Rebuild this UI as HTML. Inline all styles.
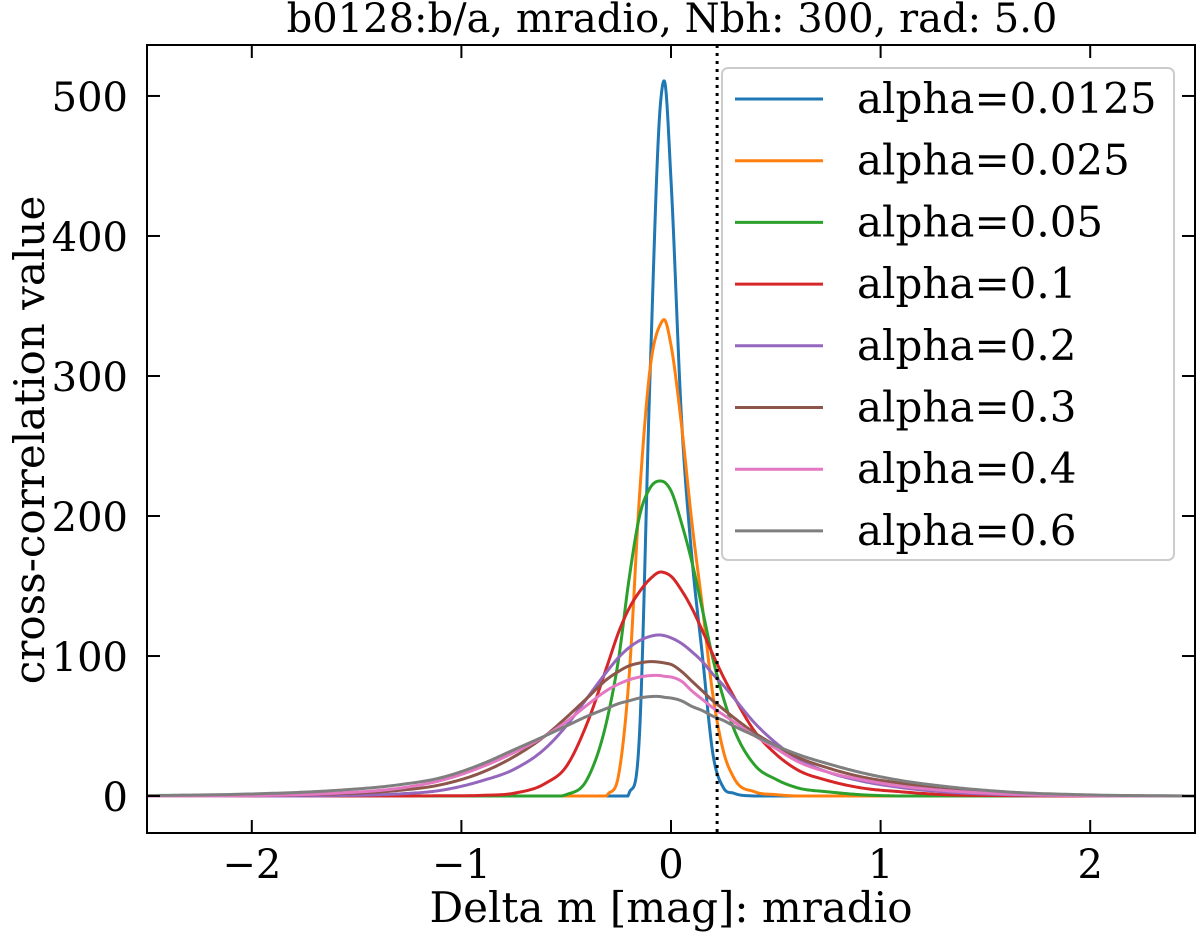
<!DOCTYPE html>
<html><head><meta charset="utf-8"><style>
html,body{margin:0;padding:0;background:#fff;}
svg{display:block;font-family:"DejaVu Serif","Liberation Serif",serif;}
</style></head><body>
<svg id="chart" width="1200" height="935" viewBox="0 0 1200 935" xmlns="http://www.w3.org/2000/svg">
<text x="672" y="32" font-size="40" text-anchor="middle" fill="#000">b0128:b/a, mradio, Nbh: 300, rad: 5.0</text>
<g id="curves"></g>
<line id="vline" y1="45" y2="833" stroke="#000" stroke-width="3" stroke-dasharray="3,5"/>
<g id="axes"></g>
<text x="671" y="922" font-size="42" text-anchor="middle">Delta m [mag]: mradio</text>
<text transform="translate(44,440) rotate(-90)" font-size="42" text-anchor="middle">cross-correlation value</text>
<g id="legend"></g>
</svg>
<script>
const xGrid=[-2.5,-2,-1.6,-1.3,-1.1,-0.9,-0.75,-0.6,-0.5,-0.4,-0.3,-0.25,-0.2,-0.15,-0.1,-0.05,-0.03,0,0.05,0.1,0.15,0.2,0.25,0.3,0.4,0.5,0.6,0.75,0.9,1.1,1.3,1.6,2,2.5];
const labels=["alpha=0.0125","alpha=0.025","alpha=0.05","alpha=0.1","alpha=0.2","alpha=0.3","alpha=0.4","alpha=0.6"];
const colors=["#1f77b4","#ff7f0e","#2ca02c","#d62728","#9467bd","#8c564b","#e377c2","#7f7f7f"];
const sBlue  =[0,0,0,0,0,0,0,0,0,0,0,0,2,45,300,495,510,440,270,170,100,30,6,2,0,0,0,0,0,0,0,0,0,0];
const sOrange=[0,0,0,0,0,0,0,0,0,0,1.5,15,85,215,305,337,340,322,265,195,135,72,32,13,3,1,0,0,0,0,0,0,0,0];
const sGreen =[0,0,0,0,0,0,0,0,1,12,58,98,155,200,220,225,224,218,195,167,133,98,70,48,22,12,6,3,1,0,0,0,0,0];
const sRed   =[0,0,0,0,0.2,0.5,2,9,21,52,95,117,134,146,155,160,159.5,157,147,134,118,101,85,71,46,30,19,11,6,3,1,0.3,0,0];
const sPurple=[0,0,0.3,1.5,4,11,19,34,50,70,90,99,106,111,114,115,114.5,113,109,103,96,87,79,70,52,38,27,17,11,6,3,1,0.2,0];
const sBrown =[0,0.2,1.5,4,8,17,28,43,56,70,84,89,93,95,96,95.5,95,94,89,82,75,68,62,56,45,36,28,20,14,9,5,2,0.5,0];
const sPink  =[0,0.3,2,5.5,11,21,31,43,53,65,76,80,83,85,86,86,85.5,85,82,75,69,63,58,53,43,34,25,17,12,7,4,1.5,0.3,0];
const sGray  =[0.3,1.5,4,8,13,23,33,43,50,57,63,66,68,70,71,71,70.5,70,68,64,61,57,54,50,43,36,30,23,17,11,7,3,0.8,0];
const series=[sBlue,sOrange,sGreen,sRed,sPurple,sBrown,sPink,sGray];
const xTicks=[-2,-1,0,1,2];
const xTickLabels=["\u22122","\u22121","0","1","2"];
const yTicks=[0,100,200,300,400,500];
const vlineX=0.22;

const L=147,R=1195,T=45,B=833;
const xMin=-2.5,xMax=2.5,yMin=-26.4,yMax=536.4;
const sx=v=>L+(v-xMin)/(xMax-xMin)*(R-L);
const sy=v=>B-(v-yMin)/(yMax-yMin)*(B-T);
const NS="http://www.w3.org/2000/svg";
function mk(tag,attrs,parent){const e=document.createElementNS(NS,tag);for(const k in attrs)e.setAttribute(k,attrs[k]);parent.appendChild(e);return e;}

// cubic Hermite through read values, tangents from non-uniform 3-point derivative
function tangents(xs,ys){
  const n=xs.length,h=[],d=[],m=new Array(n);
  for(let i=0;i<n-1;i++){h.push(xs[i+1]-xs[i]);d.push((ys[i+1]-ys[i])/h[i]);}
  m[0]=d[0];m[n-1]=d[n-2];
  for(let i=1;i<n-1;i++){
    if(d[i-1]===0&&d[i]===0){m[i]=0;continue;}
    m[i]=(h[i]*d[i-1]+h[i-1]*d[i])/(h[i-1]+h[i]);
  }
  return m;
}
function pathFor(xs,ys){
  const m=tangents(xs,ys);
  let p="";
  for(let i=0;i<xs.length-1;i++){
    const h=xs[i+1]-xs[i],N=24;
    for(let k=(i===0?0:1);k<=N;k++){
      const t=k/N,t2=t*t,t3=t2*t;
      const v=(2*t3-3*t2+1)*ys[i]+(t3-2*t2+t)*h*m[i]+(-2*t3+3*t2)*ys[i+1]+(t3-t2)*h*m[i+1];
      const xv=xs[i]+t*h;
      p+=(p?" L":"M")+sx(xv).toFixed(2)+","+sy(Math.max(0,v)).toFixed(2);
    }
  }
  return p;
}
const gc=document.getElementById("curves");
const clip=mk("clipPath",{id:"pc"},gc);mk("rect",{x:L,y:T,width:R-L,height:B-T},clip);
series.forEach((s,i)=>{
  const p=mk("path",{d:pathFor(xGrid,s),fill:"none",stroke:colors[i],"stroke-width":3,"stroke-linejoin":"round","clip-path":"url(#pc)"},gc);
  
  
});
const vl=document.getElementById("vline");vl.setAttribute("x1",sx(vlineX));vl.setAttribute("x2",sx(vlineX));

const ga=document.getElementById("axes");
const frame=mk("rect",{x:L,y:T,width:R-L,height:B-T,fill:"none",stroke:"#000","stroke-width":2},ga);


xTicks.forEach((v,i)=>{
  const X=sx(v);
  mk("line",{x1:X,x2:X,y1:B,y2:B-13,stroke:"#000","stroke-width":2},ga);
  mk("line",{x1:X,x2:X,y1:T,y2:T+13,stroke:"#000","stroke-width":2},ga);
  const t=mk("text",{x:X,y:B+45,"font-size":40,"text-anchor":"middle"},ga);t.textContent=xTickLabels[i];
  
  
});
yTicks.forEach(v=>{
  const Y=sy(v);
  mk("line",{x1:L,x2:L+13,y1:Y,y2:Y,stroke:"#000","stroke-width":2},ga);
  mk("line",{x1:R,x2:R-13,y1:Y,y2:Y,stroke:"#000","stroke-width":2},ga);
  const t=mk("text",{x:L-19,y:Y+15,"font-size":40,"text-anchor":"end"},ga);t.textContent=String(v);
  
  
});

const gl=document.getElementById("legend");
const box=mk("rect",{x:722,y:68,width:452,height:492,rx:6,fill:"#fff","fill-opacity":0.85,stroke:"#ccc","stroke-width":2},gl);


labels.forEach((lb,i)=>{
  const Y=99+61.7*i;
  const g=mk("g",{},gl);
  
  
  mk("line",{x1:735,x2:823,y1:Y,y2:Y,stroke:colors[i],"stroke-width":3},g);
  const t=mk("text",{x:857,y:Y+14,"font-size":42},g);t.textContent=lb;
});
</script>
</body></html>
